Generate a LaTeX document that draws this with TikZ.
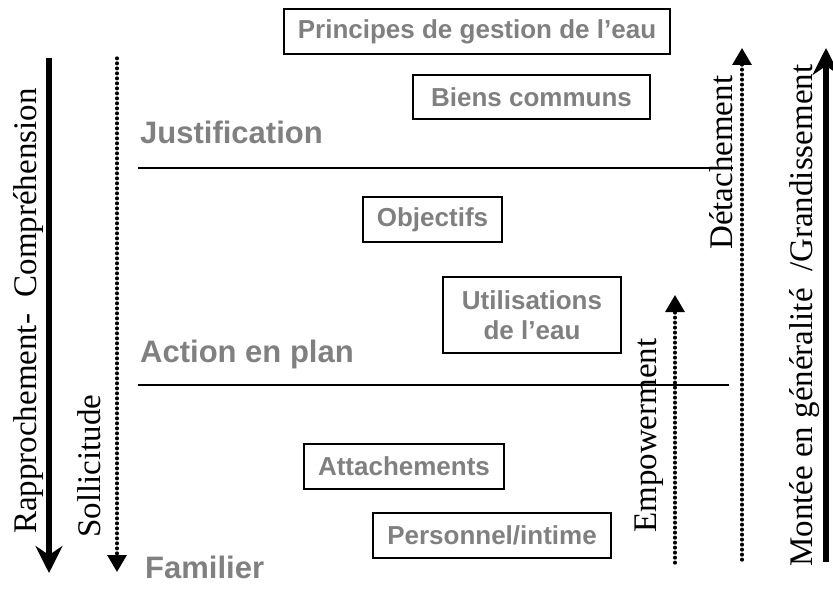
\documentclass[tikz,border=0pt]{standalone}
\usepackage{fontspec}
\setmainfont{Liberation Serif}
\newfontfamily\arialfam{Liberation Sans}
\usetikzlibrary{arrows.meta}
\definecolor{txtgray}{RGB}{128,128,128}
\newcommand\boxfont{\arialfam\bfseries\fontsize{26}{30}\selectfont}
\newcommand\lvlfont{\arialfam\bfseries\fontsize{31}{36}\selectfont}
\newcommand\vfont{\rmfamily\fontsize{33}{38}\selectfont}
\begin{document}
\begin{tikzpicture}[x=1pt,y=-1pt,
  box/.style={draw=black, line width=1.2pt, text=txtgray, font=\boxfont, inner sep=0pt, align=center},
  lvl/.style={text=txtgray, font=\lvlfont, anchor=base west, inner sep=0pt},
  vtext/.style={rotate=90, anchor=base west, inner sep=0pt, font=\vfont},
  bigarrow/.style={line width=6pt, -{Stealth[length=27pt,width=27pt,inset=9pt]}},
  dotarrow/.style={line width=3.2pt, dash pattern=on 0.8pt off 4.2pt, line cap=round, -{Triangle[length=17pt,width=19pt]}},
  sep/.style={line width=1.3pt}]
\useasboundingbox (0,0) rectangle (833,599);
\fill[white] (0,0) rectangle (833,599);

% boxes
\node[box, minimum width=386pt, minimum height=45pt] (principes) at (477,31.5) {Principes de gestion de l’eau};
\node[box, minimum width=237pt, minimum height=44pt] (biens) at (531.5,97) {Biens communs};
\node[box, minimum width=139pt, minimum height=45pt] (objectifs) at (432.5,219.5) {Objectifs};
\node[box, minimum width=178pt, minimum height=76pt] (utilisations) at (532,315) {Utilisations\\de l’eau};
\node[box, minimum width=200pt, minimum height=45pt] (attachements) at (404,466.5) {Attachements};
\node[box, minimum width=238pt, minimum height=45pt] (personnel) at (492,535.5) {Personnel/intime};

% level labels
\node[lvl] (justification) at (140,144) {Justification};
\node[lvl] (action) at (140,362) {Action en plan};
\node[lvl] (familier) at (145,578) {Familier};

% separators
\coordinate (j1) at (138,168); \coordinate (j2) at (733,168);
\coordinate (a1) at (138,385); \coordinate (a2) at (729,385);
\draw[sep] (j1) -- (j2);
\draw[sep] (a1) -- (a2);

% vertical arrows
\coordinate (l1) at (49,58);   \coordinate (l2) at (49,573);
\coordinate (s1) at (117,58);  \coordinate (s2) at (117,572);
\coordinate (e1) at (675,563); \coordinate (e2) at (675,295);
\coordinate (d1) at (742,560); \coordinate (d2) at (742,48);
\coordinate (r1) at (826,562); \coordinate (r2) at (826,48);
\draw[bigarrow] (l1) -- (l2);
\draw[dotarrow] (s1) -- (s2);
\draw[dotarrow] (e1) -- (e2);
\draw[dotarrow] (d1) -- (d2);
\draw[bigarrow] (r1) -- (r2);

% vertical texts
\node[vtext] (rappro) at (36,534) {Rapprochement-\ \ Compréhension};
\node[vtext] (sollic) at (100,538) {Sollicitude};
\node[vtext] (empow) at (656,533) {Empowerment};
\node[vtext] (detach) at (732,250) {Détachement};
\node[vtext] (montee) at (812,567) {Montée en généralité\ \ /Grandissement};
\end{tikzpicture}
\end{document}
